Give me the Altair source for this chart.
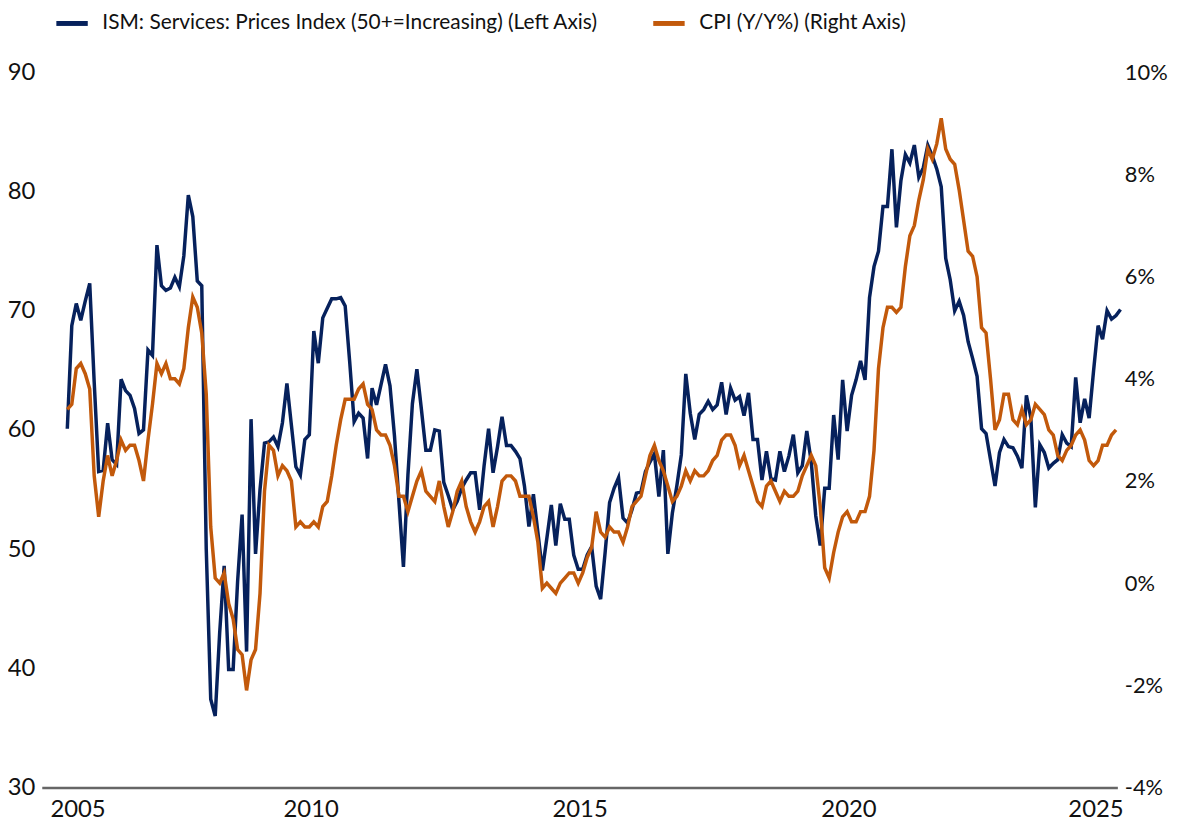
import altair as alt
import pandas as pd

series_names = [
    "ISM: Services: Prices Index (50+=Increasing) (Left Axis)",
    "CPI (Y/Y%) (Right Axis)",
]
series_colors = ["#06215C", "#C2590B"]

# monthly values, first point = month index 0
ism_values = [
    60.1, 68.75, 70.6, 69.2, 70.8, 72.3, 64.0, 56.5, 56.6, 60.56,
    57.5, 57.1, 64.25, 63.3, 62.9, 61.8, 59.7, 60.0, 66.7, 66.25,
    75.5, 72.1, 71.7, 71.9, 72.8, 72.0, 74.6, 79.7, 77.9, 72.5,
    72.1, 50.0, 37.4, 36.0, 43.0, 48.6, 39.9, 39.9, 47.3, 52.9,
    41.4, 60.9, 49.6, 55.0, 58.9, 59.0, 59.4, 58.6, 60.6, 63.9,
    60.4, 56.9, 56.2, 59.2, 59.6, 68.3, 65.6, 69.4, 70.2, 71.0,
    71.0, 71.1, 70.4, 65.75, 60.7, 61.4, 61.0, 57.6, 63.5, 62.1,
    63.8, 65.5, 63.7, 59.5, 54.0, 48.5, 56.2, 62.2, 65.1, 61.75,
    58.3, 58.3, 60.0, 59.9, 55.6, 54.5, 53.3, 54.0, 55.1, 55.8,
    56.4, 56.4, 53.3, 57.0, 60.1, 56.4, 58.6, 61.1, 58.7, 58.7,
    58.2, 57.6, 55.3, 51.9, 54.6, 51.4, 48.2, 50.9, 53.7, 50.3,
    53.8, 52.5, 52.5, 49.5, 48.3, 48.3, 49.5, 50.2, 46.9, 45.8,
    49.7, 53.9, 55.1, 56.0, 52.6, 52.2, 53.3, 54.7, 54.8, 56.5,
    57.3, 58.0, 54.4, 58.3, 49.6, 53.0, 55.3, 57.9, 64.7, 61.4,
    59.2, 61.3, 61.7, 62.4, 61.7, 62.1, 64.0, 61.3, 63.5, 62.5,
    62.8, 61.2, 63.1, 59.2, 59.2, 55.8, 58.2, 55.9, 55.8, 58.2,
    56.5, 57.8, 59.6, 56.4, 57.0, 59.9, 57.3, 52.8, 50.3, 55.1,
    55.1, 61.25, 57.5, 64.2, 59.9, 62.9, 64.2, 65.8, 64.2, 71.1,
    73.7, 75.0, 78.75, 78.75, 83.55, 77.0, 80.9, 83.1, 82.4, 83.9,
    81.2, 82.0, 83.9, 83.0, 81.9, 80.4, 74.4, 72.6, 70.0, 70.8,
    69.6, 67.4, 66.0, 64.5, 60.1, 59.7, 57.5, 55.3, 58.1, 59.2,
    58.6, 58.5, 57.8, 56.8, 62.9, 61.0, 53.5, 58.75, 58.1, 56.8,
    57.2, 57.5, 59.6, 58.9, 58.6, 64.4, 60.6, 62.6, 61.0, 65.0,
    68.75, 67.6, 70.0, 69.3, 69.6, 70.1,
]

cpi_values = [
    3.4, 3.5, 4.2, 4.3, 4.1, 3.8, 2.1, 1.3, 2.0, 2.5,
    2.1, 2.4, 2.8, 2.6, 2.7, 2.7, 2.4, 2.0, 2.8, 3.5, 4.3, 4.1,
    4.3, 4.0, 4.0, 3.9, 4.2, 5.0, 5.6, 5.4, 4.9, 3.7, 1.1, 0.1,
    0.0, 0.2, -0.4, -0.7, -1.3, -1.4, -2.1, -1.5, -1.3, -0.2, 1.8, 2.7,
    2.6, 2.1, 2.3, 2.2, 2.0, 1.1, 1.2, 1.1, 1.1, 1.2, 1.1, 1.5,
    1.6, 2.1, 2.7, 3.2, 3.6, 3.6, 3.6, 3.8, 3.9, 3.5, 3.4, 3.0,
    2.9, 2.9, 2.7, 2.3, 1.7, 1.7, 1.4, 1.7, 2.0, 2.2, 1.8, 1.7,
    1.6, 2.0, 1.5, 1.1, 1.4, 1.8, 2.0, 1.5, 1.2, 1.0, 1.2, 1.5,
    1.6, 1.1, 1.5, 2.0, 2.1, 2.1, 2.0, 1.7, 1.7, 1.7, 1.3, 0.8,
    -0.1, 0.0, -0.1, -0.2, 0.0, 0.1, 0.2, 0.2, 0.0, 0.2, 0.5, 0.7,
    1.4, 1.0, 0.9, 1.1, 1.0, 1.0, 0.8, 1.1, 1.5, 1.6, 1.7, 2.1,
    2.5, 2.7, 2.4, 2.2, 1.9, 1.6, 1.7, 1.9, 2.2, 2.0, 2.2, 2.1,
    2.1, 2.2, 2.4, 2.5, 2.8, 2.9, 2.9, 2.7, 2.3, 2.5, 2.2, 1.9,
    1.6, 1.5, 1.9, 2.0, 1.8, 1.6, 1.8, 1.7, 1.7, 1.8, 2.1, 2.3,
    2.5, 2.3, 1.5, 0.3, 0.1, 0.6, 1.0, 1.3, 1.4, 1.2, 1.2, 1.4,
    1.4, 1.7, 2.6, 4.2, 5.0, 5.4, 5.4, 5.3, 5.4, 6.2, 6.8, 7.0,
    7.5, 7.9, 8.5, 8.3, 8.6, 9.1, 8.5, 8.3, 8.2, 7.7, 7.1, 6.5,
    6.4, 6.0, 5.0, 4.9, 4.0, 3.0, 3.2, 3.7, 3.7, 3.2, 3.1, 3.4,
    3.1, 3.2, 3.5, 3.4, 3.3, 3.0, 2.9, 2.5, 2.4, 2.6, 2.7, 2.9,
    3.0, 2.8, 2.4, 2.3, 2.4, 2.7, 2.7, 2.9, 3.0,
]

x_tick_months = [-5.7, 54.3, 114.3, 174.3, 234.3]
x_tick_labels = ["2005", "2010", "2015", "2020", "2025"]
left_ticks = [30, 40, 50, 60, 70, 80, 90]
right_ticks = [-4, -2, 0, 2, 4, 6, 8, 10]

FONT = "Lato"

ism_df = pd.DataFrame({
    "month": list(range(len(ism_values))),
    "value": ism_values,
    "series": series_names[0],
})
cpi_df = pd.DataFrame({
    "month": list(range(len(cpi_values))),
    "value": cpi_values,
    "series": series_names[1],
})

label_expr = (
    "[" + ",".join("'%s'" % l for l in x_tick_labels) + "]"
    + "[indexof([" + ",".join(str(v) for v in x_tick_months) + "], datum.value)]"
)

x_enc = alt.X(
    "month:Q",
    scale=alt.Scale(domain=[x_tick_months[0], x_tick_months[-1]], nice=False, zero=False),
    axis=alt.Axis(
        values=x_tick_months, labelExpr=label_expr, title=None, grid=False,
        ticks=False, domain=True, domainColor="#666666", domainWidth=2.5,
        labelFontSize=24, labelPadding=10, labelFlush=False, labelColor="#111111",
        labelFont=FONT,
        labelOffset={
            "condition": [
                {"test": "datum.value < 0", "value": 36},
                {"test": "datum.value > 200", "value": -22},
            ],
            "value": 0,
        },
    ),
)

color_enc = alt.Color(
    "series:N",
    scale=alt.Scale(domain=series_names, range=series_colors),
    legend=alt.Legend(
        orient="none", legendX=12, legendY=-68, direction="horizontal",
        title=None, symbolType="stroke", symbolStrokeWidth=5, symbolSize=1000,
        labelFontSize=21, labelFont=FONT, labelColor="#111111", labelOffset=12,
        columnPadding=44, labelLimit=1000, padding=0,
    ),
)

ism_line = alt.Chart(ism_df).mark_line(strokeWidth=3.5).encode(
    x=x_enc,
    y=alt.Y(
        "value:Q",
        scale=alt.Scale(domain=[left_ticks[0], left_ticks[-1]], nice=False, zero=False),
        axis=alt.Axis(
            orient="left", values=left_ticks, title=None, grid=False, ticks=False,
            domain=False, labelFontSize=24, labelPadding=7, labelColor="#111111",
            labelFont=FONT,
        ),
    ),
    color=color_enc,
)

cpi_line = alt.Chart(cpi_df).mark_line(strokeWidth=3.5).encode(
    x=x_enc,
    y=alt.Y(
        "value:Q",
        scale=alt.Scale(domain=[right_ticks[0], right_ticks[-1]], nice=False, zero=False),
        axis=alt.Axis(
            orient="right", values=right_ticks, labelExpr="datum.value + '%'",
            title=None, grid=False, ticks=False, domain=False, labelFontSize=22,
            labelPadding=7, labelColor="#111111", labelFont=FONT,
        ),
    ),
    color=color_enc,
)

chart = (
    alt.layer(ism_line, cpi_line)
    .resolve_scale(y="independent")
    .properties(
        width=1083,
        height=720,
        padding={"left": 34, "top": 62, "right": 53, "bottom": 34},
        autosize=alt.AutoSizeParams(type="none"),
        background="white",
    )
    .configure_view(stroke=None)
)

chart.save("out.html", embed_options={"renderer": "svg", "actions": False})
